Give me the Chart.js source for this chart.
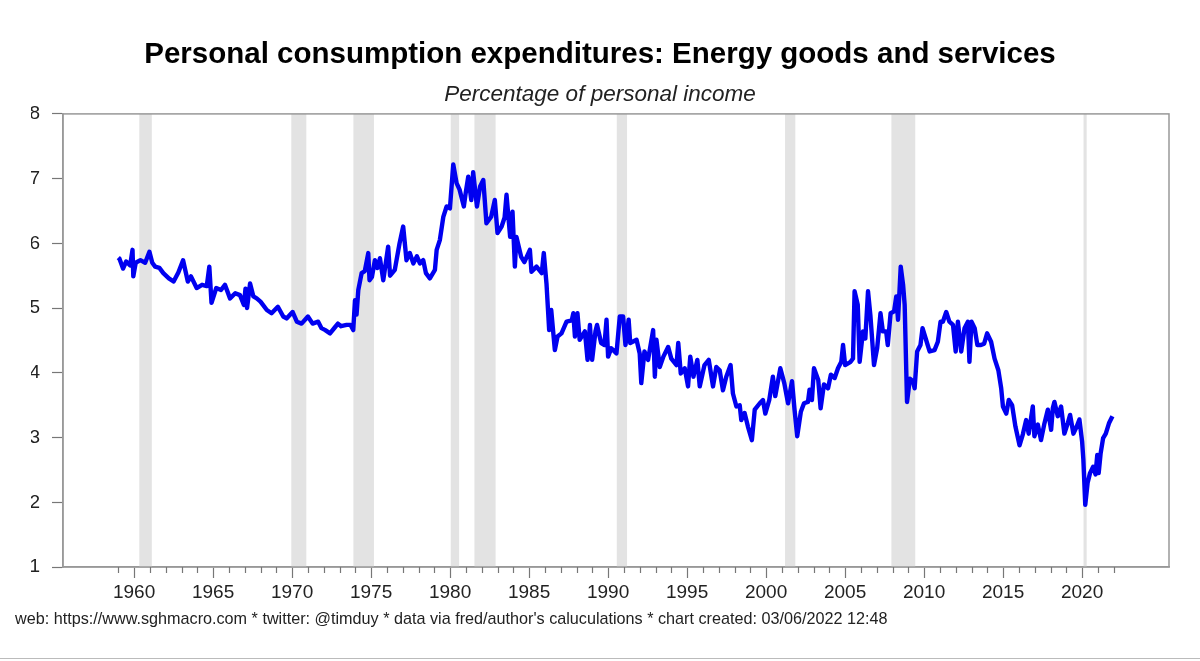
<!DOCTYPE html>
<html>
<head>
<meta charset="utf-8">
<script src="https://cdn.jsdelivr.net/npm/chart.js@4"></script>
<style>
  html, body { margin: 0; padding: 0; background: #fff; }
  #wrap { position: relative; width: 1200px; height: 661px; }
  #footer {
    position: absolute; left: 15px; top: 609px;
    font: 16.2px "Liberation Sans", Arial, sans-serif; color: #222;
    white-space: nowrap;
  }
  #baseline { position: absolute; left: 0; right: 0; top: 658px; height: 1px; background: #bbb; }
</style>
</head>
<body>
<div id="wrap">
  <canvas id="chart" width="1200" height="661"></canvas>
  <div id="footer">web: https://www.sghmacro.com * twitter: @timduy * data via fred/author's caluculations * chart created: 03/06/2022 12:48</div>
  <div id="baseline"></div>
</div>
<script>
// PCE energy goods & services, % of personal income
const obsYear = [
  1959.00, 1959.08, 1959.30, 1959.50, 1959.75, 1959.90, 1959.95, 1960.10, 1960.40, 1960.70,
  1960.97, 1961.15, 1961.33, 1961.60, 1961.85, 1962.20, 1962.50, 1962.80, 1963.10, 1963.40,
  1963.60, 1963.96, 1964.30, 1964.60, 1964.76, 1964.90, 1965.20, 1965.50, 1965.75, 1966.07,
  1966.40, 1966.70, 1966.95, 1967.05, 1967.15, 1967.34, 1967.55, 1967.76, 1968.00, 1968.40,
  1968.70, 1969.10, 1969.44, 1969.65, 1970.03, 1970.30, 1970.60, 1971.00, 1971.30, 1971.65,
  1971.86, 1972.10, 1972.40, 1972.70, 1972.90, 1973.10, 1973.45, 1973.70, 1973.87, 1973.98,
  1974.08, 1974.19, 1974.40, 1974.60, 1974.82, 1974.90, 1975.05, 1975.24, 1975.40, 1975.56,
  1975.77, 1976.08, 1976.20, 1976.50, 1976.80, 1977.03, 1977.24, 1977.45, 1977.67, 1977.90,
  1978.09, 1978.30, 1978.47, 1978.72, 1979.04, 1979.15, 1979.35, 1979.57, 1979.78, 1979.99,
  1980.20, 1980.41, 1980.60, 1980.87, 1981.00, 1981.15, 1981.34, 1981.46, 1981.70, 1981.90,
  1982.10, 1982.30, 1982.60, 1982.83, 1983.00, 1983.26, 1983.45, 1983.57, 1983.80, 1983.95,
  1984.10, 1984.20, 1984.50, 1984.70, 1985.05, 1985.15, 1985.47, 1985.80, 1985.93, 1986.10,
  1986.27, 1986.40, 1986.63, 1986.80, 1987.05, 1987.37, 1987.70, 1987.80, 1987.90, 1988.06,
  1988.20, 1988.53, 1988.70, 1988.85, 1988.99, 1989.20, 1989.30, 1989.56, 1989.77, 1989.90,
  1990.00, 1990.20, 1990.53, 1990.74, 1990.95, 1991.10, 1991.30, 1991.40, 1991.80, 1992.00,
  1992.10, 1992.30, 1992.53, 1992.85, 1992.96, 1993.06, 1993.27, 1993.50, 1993.80, 1994.00,
  1994.33, 1994.44, 1994.60, 1994.85, 1995.06, 1995.20, 1995.40, 1995.65, 1995.80, 1996.10,
  1996.37, 1996.64, 1996.85, 1997.06, 1997.27, 1997.48, 1997.75, 1997.90, 1998.12, 1998.33,
  1998.43, 1998.64, 1998.85, 1999.10, 1999.28, 1999.60, 1999.80, 1999.95, 2000.20, 2000.43,
  2000.58, 2000.90, 2001.15, 2001.39, 2001.64, 2001.80, 2001.97, 2002.20, 2002.40, 2002.65,
  2002.75, 2002.90, 2003.03, 2003.30, 2003.45, 2003.66, 2003.92, 2004.10, 2004.34, 2004.55,
  2004.76, 2004.87, 2005.00, 2005.35, 2005.50, 2005.60, 2005.80, 2005.92, 2006.13, 2006.28,
  2006.45, 2006.60, 2006.83, 2007.03, 2007.24, 2007.39, 2007.60, 2007.70, 2007.88, 2008.10,
  2008.24, 2008.35, 2008.52, 2008.67, 2008.77, 2008.92, 2009.10, 2009.30, 2009.40, 2009.56,
  2009.77, 2009.90, 2010.10, 2010.35, 2010.66, 2010.87, 2011.04, 2011.19, 2011.40, 2011.60,
  2011.83, 2012.00, 2012.14, 2012.35, 2012.56, 2012.77, 2012.87, 2013.00, 2013.20, 2013.37,
  2013.60, 2013.80, 2013.99, 2014.24, 2014.46, 2014.70, 2014.88, 2014.99, 2015.20, 2015.36,
  2015.57, 2015.78, 2016.04, 2016.25, 2016.46, 2016.62, 2016.88, 2016.98, 2017.20, 2017.40,
  2017.60, 2017.83, 2018.04, 2018.15, 2018.25, 2018.46, 2018.67, 2018.88, 2019.09, 2019.24,
  2019.45, 2019.66, 2019.83, 2020.00, 2020.08, 2020.20, 2020.35, 2020.50, 2020.70, 2020.85,
  2020.96, 2021.05, 2021.17, 2021.33, 2021.50, 2021.70, 2021.92
];
const obsValue = [
  5.78, 5.76, 5.61, 5.72, 5.66, 5.90, 5.49, 5.70, 5.74, 5.70,
  5.87, 5.70, 5.64, 5.62, 5.54, 5.46, 5.41, 5.55, 5.74, 5.41,
  5.49, 5.31, 5.36, 5.34, 5.64, 5.08, 5.31, 5.28, 5.36, 5.15,
  5.23, 5.20, 5.05, 5.30, 5.00, 5.38, 5.18, 5.15, 5.10, 4.97,
  4.92, 5.02, 4.87, 4.84, 4.94, 4.79, 4.76, 4.87, 4.76, 4.79,
  4.69, 4.66, 4.61, 4.70, 4.76, 4.72, 4.74, 4.74, 4.66, 5.12,
  4.90, 5.28, 5.54, 5.57, 5.85, 5.43, 5.48, 5.74, 5.62, 5.77,
  5.43, 5.95, 5.50, 5.59, 6.00, 6.26, 5.74, 5.85, 5.69, 5.80,
  5.69, 5.74, 5.54, 5.46, 5.59, 5.90, 6.05, 6.41, 6.57, 6.54,
  7.22, 6.93, 6.83, 6.57, 6.80, 7.03, 6.67, 7.10, 6.57, 6.88,
  6.98, 6.31, 6.41, 6.67, 6.16, 6.26, 6.40, 6.75, 6.10, 6.49,
  5.64, 6.10, 5.79, 5.71, 5.90, 5.56, 5.64, 5.54, 5.85, 5.38,
  4.66, 4.97, 4.35, 4.56, 4.61, 4.79, 4.81, 4.92, 4.56, 4.92,
  4.51, 4.64, 4.20, 4.74, 4.20, 4.64, 4.74, 4.46, 4.43, 4.82,
  4.25, 4.38, 4.30, 4.87, 4.87, 4.43, 4.82, 4.46, 4.51, 4.30,
  3.84, 4.33, 4.20, 4.66, 3.94, 4.51, 4.09, 4.25, 4.40, 4.22,
  4.12, 4.46, 3.99, 4.07, 3.79, 4.25, 3.94, 4.20, 3.79, 4.12,
  4.20, 3.79, 4.09, 4.04, 3.73, 3.94, 4.12, 3.68, 3.48, 3.50,
  3.27, 3.38, 3.17, 2.96, 3.43, 3.53, 3.58, 3.37, 3.58, 3.94,
  3.64, 4.07, 3.84, 3.53, 3.87, 3.43, 3.02, 3.40, 3.53, 3.55,
  3.74, 3.58, 4.07, 3.89, 3.45, 3.82, 3.76, 3.97, 3.92, 4.07,
  4.17, 4.43, 4.12, 4.17, 4.22, 5.26, 5.05, 4.17, 4.64, 4.53,
  5.26, 4.89, 4.12, 4.38, 4.92, 4.64, 4.64, 4.43, 4.92, 4.95,
  5.18, 4.82, 5.64, 5.36, 5.05, 3.55, 3.91, 3.87, 3.76, 4.33,
  4.43, 4.69, 4.53, 4.33, 4.35, 4.48, 4.79, 4.79, 4.94, 4.79,
  4.74, 4.33, 4.79, 4.33, 4.69, 4.79, 4.17, 4.79, 4.69, 4.43,
  4.43, 4.45, 4.61, 4.48, 4.22, 4.04, 3.76, 3.48, 3.37, 3.58,
  3.50, 3.17, 2.88, 3.05, 3.27, 3.06, 3.48, 3.02, 3.20, 2.96,
  3.20, 3.43, 3.12, 3.46, 3.55, 3.33, 3.48, 3.06, 3.22, 3.35,
  3.06, 3.17, 3.28, 2.94, 2.66, 1.96, 2.30, 2.45, 2.55, 2.43,
  2.73, 2.45, 2.75, 2.99, 3.06, 3.22, 3.33
];

// NBER recessions (start / end, decimal years)
const recStart = [1960.33, 1969.95, 1973.88, 1980.04, 1981.54, 1990.55, 2001.20, 2007.93, 2020.09];
const recEnd   = [1961.12, 1970.90, 1975.18, 1980.57, 1982.88, 1991.20, 2001.85, 2009.44, 2020.29];

const majorYears = [1960, 1965, 1970, 1975, 1980, 1985, 1990, 1995, 2000, 2005, 2010, 2015, 2020];
const minorYears = Array.from({ length: 64 }, (_, i) => 1959 + i); // 1959..2022
const yTicks = [1, 2, 3, 4, 5, 6, 7, 8];

const points = obsYear.map((yr, i) => ({ x: yr, y: obsValue[i] }));

const FONT = '"Liberation Sans", Arial, Helvetica, sans-serif';

// grey recession bars behind the line
const recessionBars = {
  id: 'recessionBars',
  beforeDatasetsDraw(chart) {
    const { ctx, chartArea, scales } = chart;
    ctx.save();
    ctx.fillStyle = '#e3e3e3';
    recStart.forEach((s, i) => {
      const x0 = scales.x.getPixelForValue(s);
      const x1 = scales.x.getPixelForValue(recEnd[i]);
      ctx.fillRect(x0, chartArea.top, x1 - x0, chartArea.bottom - chartArea.top);
    });
    ctx.restore();
  }
};

// box around plot + minor yearly ticks
const frame = {
  id: 'frame',
  afterDraw(chart) {
    const { ctx, chartArea, scales } = chart;
    ctx.save();
    ctx.strokeStyle = '#999';
    ctx.lineWidth = 1.5;
    ctx.strokeRect(chartArea.left, chartArea.top, chartArea.right - chartArea.left, chartArea.bottom - chartArea.top);
    ctx.strokeStyle = '#777';
    ctx.lineWidth = 1.2;
    minorYears.forEach(yr => {
      if (yr % 5 === 0) return;
      const x = Math.round(scales.x.getPixelForValue(yr)) + 0.5;
      ctx.beginPath();
      ctx.moveTo(x, chartArea.bottom);
      ctx.lineTo(x, chartArea.bottom + 6);
      ctx.stroke();
    });
    ctx.restore();
  }
};

new Chart(document.getElementById('chart'), {
  type: 'line',
  data: {
    datasets: [{
      data: points,
      borderColor: '#0000f0',
      borderWidth: 4.4,
      borderJoinStyle: 'round',
      pointRadius: 0,
      tension: 0,
      fill: false
    }]
  },
  options: {
    responsive: false,
    animation: false,
    events: [],
    layout: { padding: { left: 31, right: 31, top: 0, bottom: 54 } },
    plugins: {
      legend: { display: false },
      tooltip: { enabled: false },
      title: {
        display: true,
        text: 'Personal consumption expenditures: Energy goods and services',
        color: '#000',
        font: { family: FONT, size: 29.5, weight: 'bold', lineHeight: 1.2 },
        padding: { top: 37, bottom: 9 }
      },
      subtitle: {
        display: true,
        text: 'Percentage of personal income',
        color: '#222',
        font: { family: FONT, size: 22.5, style: 'italic', lineHeight: 1.2 },
        padding: { top: 0, bottom: 5.5 }
      }
    },
    scales: {
      x: {
        type: 'linear',
        min: 1955.5,
        max: 2025.5,
        afterFit(scale) { scale.height = 40; },
        afterBuildTicks(scale) { scale.ticks = majorYears.map(v => ({ value: v })); },
        grid: { drawOnChartArea: false, drawTicks: true, tickLength: 11, tickColor: '#777', tickWidth: 1.2 },
        border: { display: true, color: '#999', width: 1.5 },
        ticks: {
          color: '#222',
          padding: 3,
          maxRotation: 0,
          autoSkip: false,
          font: { family: FONT, size: 19 },
          callback: v => String(v)
        }
      },
      y: {
        min: 1,
        max: 8,
        afterFit(scale) { scale.width = 32; },
        afterBuildTicks(scale) { scale.ticks = yTicks.map(v => ({ value: v })); },
        grid: { drawOnChartArea: false, drawTicks: true, tickLength: 11, tickColor: '#777', tickWidth: 1.2 },
        border: { display: true, color: '#999', width: 1.5 },
        ticks: {
          color: '#222',
          padding: 12,
          font: { family: FONT, size: 19 },
          callback: v => String(v)
        }
      }
    }
  },
  plugins: [recessionBars, frame]
});
</script>
</body>
</html>
